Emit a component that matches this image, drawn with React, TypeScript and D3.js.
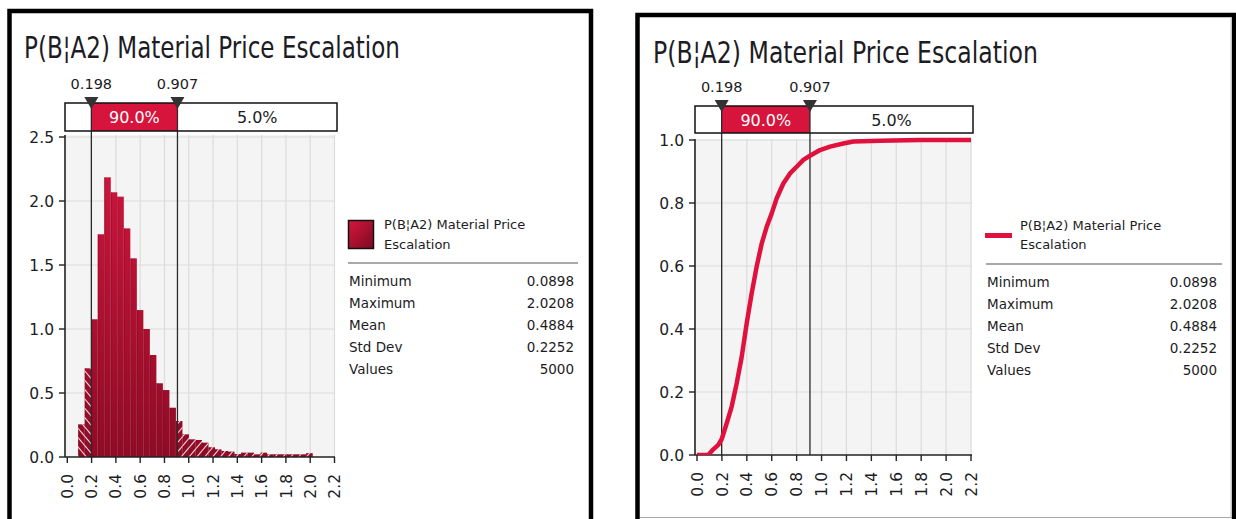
import React from 'react';
import * as d3 from 'd3';

// ---- values ----
const TITLE = 'P(B¦A2) Material Price Escalation';
const LEGEND_LINES = ['P(B¦A2) Material Price', 'Escalation'];
const STAT_LABELS = ['Minimum', 'Maximum', 'Mean', 'Std Dev', 'Values'];
const STAT_VALUES = ['0.0898', '2.0208', '0.4884', '0.2252', '5000'];
const DATA_MIN = 0.0898;
const DATA_MAX = 2.0208;
const LOWER_PCT = 0.198;
const UPPER_PCT = 0.907;
const BAND_LABELS = ['5.0%', '90.0%', '5.0%'];

// histogram densities, 36 equal bins from DATA_MIN to DATA_MAX
const DENSITY = [
  0.255, 0.693, 1.076, 1.74, 2.185, 2.068, 2.034, 1.786, 1.552, 1.148, 1.0, 0.797,
  0.576, 0.523, 0.385, 0.281, 0.177, 0.138, 0.133, 0.112, 0.076, 0.06, 0.047, 0.042,
  0.023, 0.034, 0.034, 0.021, 0.034, 0.021, 0.021, 0.021, 0.021, 0.021, 0.021, 0.03,
];

// cumulative probability curve
const CDF_X = [
  0, 0.09, 0.131, 0.171, 0.198, 0.238, 0.278, 0.319, 0.359, 0.399, 0.439, 0.479, 0.52,
  0.56, 0.6, 0.64, 0.693, 0.747, 0.8, 0.854, 0.907, 0.988, 1.068, 1.175, 1.256, 1.47,
  1.79, 2.2,
];
const CDF_P = [
  0, 0, 0.018, 0.032, 0.05, 0.1, 0.153, 0.228, 0.312, 0.418, 0.513, 0.598, 0.672,
  0.725, 0.767, 0.815, 0.862, 0.894, 0.915, 0.937, 0.95, 0.968, 0.979, 0.989, 0.995,
  0.998, 1.0, 1.0,
];

const X_TICKS = [0, 0.2, 0.4, 0.6, 0.8, 1.0, 1.2, 1.4, 1.6, 1.8, 2.0, 2.2];
const DENSITY_TICKS = [0, 0.5, 1.0, 1.5, 2.0, 2.5];
const CDF_TICKS = [0, 0.2, 0.4, 0.6, 0.8, 1.0];

// ---- styling ----
const FONT = "'DejaVu Sans', Verdana, sans-serif";
const INK = '#1c1c24';
const RED = '#d6143c';
const LINE_RED = '#e0123d';

type Layout = {
  id: string;
  kind: 'density' | 'cdf';
  frame: { left: number; top: number; right: number };
  title: { x: number; y: number; len: number };
  plot: { left: number; right: number; top: number; bottom: number };
  xRange: [number, number];
  yRange: [number, number];
  band: { top: number; bottom: number; right: number };
  pctLabelY: number;
  xLabelTop: number;
  legend: {
    swatchX: number; swatchY: number; textX: number; text1Y: number; text2Y: number;
    sepLeft: number; sepRight: number; sepY: number; labelX: number; valueX: number;
    rowY0: number; rowStep: number;
  };
};

const LAYOUTS: Layout[] = [
  {
    id: 'pdf',
    kind: 'density',
    frame: { left: 9.5, top: 11, right: 591 },
    title: { x: 24, y: 58, len: 376 },
    plot: { left: 65, right: 335, top: 135, bottom: 457 },
    xRange: [67.3, 334.5],
    yRange: [457, 137],
    band: { top: 103, bottom: 131, right: 337 },
    pctLabelY: 89,
    xLabelTop: 474,
    legend: {
      swatchX: 348.5, swatchY: 220.5, textX: 384, text1Y: 229, text2Y: 249,
      sepLeft: 348, sepRight: 578, sepY: 263, labelX: 349, valueX: 574,
      rowY0: 286, rowStep: 22,
    },
  },
  {
    id: 'cdf',
    kind: 'cdf',
    frame: { left: 637.5, top: 15, right: 1234 },
    title: { x: 653, y: 63, len: 385 },
    plot: { left: 695, right: 972, top: 139, bottom: 455 },
    xRange: [697, 971],
    yRange: [455, 140],
    band: { top: 106, bottom: 133, right: 973 },
    pctLabelY: 92,
    xLabelTop: 472,
    legend: {
      swatchX: 985, swatchY: 233, textX: 1020, text1Y: 230, text2Y: 249,
      sepLeft: 986, sepRight: 1222, sepY: 264, labelX: 987, valueX: 1217,
      rowY0: 287, rowStep: 22,
    },
  },
];

function Panel({ L }: { L: Layout }) {
  const isDensity = L.kind === 'density';
  const x = d3.scaleLinear().domain([0, 2.2]).range(L.xRange);
  const y = d3.scaleLinear().domain(isDensity ? [0, 2.5] : [0, 1]).range(L.yRange);
  const yTicks = isDensity ? DENSITY_TICKS : CDF_TICKS;
  const fmt = d3.format('.1f');
  const xl = x(LOWER_PCT);
  const xu = x(UPPER_PCT);
  const { plot, band } = L;
  const bin = d3.scaleLinear().domain([0, DENSITY.length]).range([DATA_MIN, DATA_MAX]);
  const bars = DENSITY.map((d, i) => ({ x0: bin(i), x1: bin(i + 1), d }));
  const cdfLine = d3
    .line<number>()
    .x((_, i) => x(CDF_X[i]))
    .y((p) => y(p))(CDF_P) as string;

  const regions = [
    { x0: plot.left, x1: xl, fill: 'white', color: INK, label: BAND_LABELS[0] },
    { x0: xl, x1: xu, fill: RED, color: 'white', label: BAND_LABELS[1] },
    { x0: xu, x1: band.right, fill: 'white', color: INK, label: BAND_LABELS[2] },
  ];
  const bandTextY = band.top + (band.bottom - band.top) / 2;

  return (
    <g>
      <defs>
        <linearGradient id={`${L.id}-bar`} gradientUnits="userSpaceOnUse" x1="0" y1={plot.top} x2="0" y2={plot.bottom}>
          <stop offset="0" stopColor="#d4163e" />
          <stop offset="1" stopColor="#8f0b26" />
        </linearGradient>
        <linearGradient id={`${L.id}-swatch`} x1="0" y1="0" x2="1" y2="1">
          <stop offset="0" stopColor="#d5173e" />
          <stop offset="1" stopColor="#7c0a21" />
        </linearGradient>
        <pattern id={`${L.id}-hatchL`} width="6" height="6" patternUnits="userSpaceOnUse" patternTransform="rotate(-40)">
          <line x1="0" y1="0" x2="0" y2="6" stroke="white" strokeWidth="1.8" />
        </pattern>
        <pattern id={`${L.id}-hatchR`} width="6" height="6" patternUnits="userSpaceOnUse" patternTransform="rotate(40)">
          <line x1="0" y1="0" x2="0" y2="6" stroke="white" strokeWidth="1.8" />
        </pattern>
        <clipPath id={`${L.id}-plot`}>
          <rect x={plot.left} y={plot.top - 3} width={plot.right - plot.left} height={plot.bottom - plot.top + 3} />
        </clipPath>
        <clipPath id={`${L.id}-low`}>
          <rect x={plot.left} y={plot.top} width={xl - plot.left} height={plot.bottom - plot.top} />
        </clipPath>
        <clipPath id={`${L.id}-high`}>
          <rect x={xu} y={plot.top} width={plot.right - xu} height={plot.bottom - plot.top} />
        </clipPath>
      </defs>

      {/* frame */}
      <path
        d={`M${L.frame.left},530 V${L.frame.top} H${L.frame.right} V530`}
        fill="none"
        stroke="#000"
        strokeWidth={4.5}
      />

      {/* title */}
      <text
        x={L.title.x}
        y={L.title.y}
        fontFamily={FONT}
        fontSize={30}
        fill={INK}
        textLength={L.title.len}
        lengthAdjust="spacingAndGlyphs"
      >
        {TITLE}
      </text>

      {/* plot background and grid */}
      <rect x={plot.left} y={plot.top} width={plot.right - plot.left} height={plot.bottom - plot.top} fill="#f4f4f4" />
      {X_TICKS.filter((t) => t > 0).map((t) => (
        <line key={`gx${t}`} x1={x(t)} x2={x(t)} y1={plot.top} y2={plot.bottom} stroke="#dcdcdc" strokeWidth={1.2} />
      ))}
      {yTicks.filter((t) => t > 0).map((t) => (
        <line key={`gy${t}`} x1={plot.left} x2={plot.right} y1={y(t)} y2={y(t)} stroke="#dcdcdc" strokeWidth={1.2} />
      ))}

      {/* data */}
      {isDensity ? (
        <g>
          {bars.map((b, i) => (
            <rect
              key={`b${i}`}
              x={x(b.x0)}
              y={y(b.d)}
              width={x(b.x1) - x(b.x0)}
              height={y(0) - y(b.d)}
              fill={`url(#${L.id}-bar)`}
            />
          ))}
          {bars.map((b, i) => (
            <line
              key={`e${i}`}
              x1={x(b.x0) + 0.5}
              x2={x(b.x0) + 0.5}
              y1={y(b.d)}
              y2={y(0)}
              stroke="#7a0920"
              strokeOpacity={0.45}
              strokeWidth={1}
            />
          ))}
          <g clipPath={`url(#${L.id}-low)`}>
            {bars.map((b, i) => (
              <rect
                key={`hl${i}`}
                x={x(b.x0)}
                y={y(b.d)}
                width={x(b.x1) - x(b.x0)}
                height={y(0) - y(b.d)}
                fill={`url(#${L.id}-hatchL)`}
              />
            ))}
          </g>
          <g clipPath={`url(#${L.id}-high)`}>
            {bars.map((b, i) => (
              <rect
                key={`hh${i}`}
                x={x(b.x0)}
                y={y(b.d)}
                width={x(b.x1) - x(b.x0)}
                height={y(0) - y(b.d)}
                fill={`url(#${L.id}-hatchR)`}
              />
            ))}
          </g>
        </g>
      ) : null}

      {/* percentile delimiters */}
      {[xl, xu].map((cx, i) => (
        <line key={`pl${i}`} x1={cx} x2={cx} y1={band.top} y2={plot.bottom} stroke="#2b2b2b" strokeWidth={1.3} />
      ))}

      {/* axes */}
      <line x1={plot.left} x2={plot.left} y1={plot.top} y2={plot.bottom} stroke="#222" strokeWidth={1.6} />
      <line x1={plot.left} x2={plot.right} y1={plot.bottom} y2={plot.bottom} stroke="#222" strokeWidth={1.6} />
      {yTicks.map((t) => (
        <g key={`yt${t}`}>
          <line x1={plot.left - 6} x2={plot.left} y1={y(t)} y2={y(t)} stroke="#222" strokeWidth={1.4} />
          <text
            x={plot.left - 11}
            y={y(t)}
            dy="0.36em"
            textAnchor="end"
            fontFamily={FONT}
            fontSize={15.5}
            fill={INK}
          >
            {fmt(t)}
          </text>
        </g>
      ))}
      {X_TICKS.map((t) => (
        <g key={`xt${t}`}>
          <line x1={x(t)} x2={x(t)} y1={plot.bottom} y2={plot.bottom + 6} stroke="#222" strokeWidth={1.4} />
          <text
            transform={`translate(${x(t)},${L.xLabelTop}) rotate(-90)`}
            dy="0.36em"
            textAnchor="end"
            fontFamily={FONT}
            fontSize={15.5}
            fill={INK}
          >
            {fmt(t)}
          </text>
        </g>
      ))}

      {!isDensity ? (
        <path
          d={cdfLine}
          fill="none"
          stroke={LINE_RED}
          strokeWidth={4.5}
          strokeLinejoin="round"
          clipPath={`url(#${L.id}-plot)`}
        />
      ) : null}

      {/* percentile band */}
      {regions.map((r, i) => (
        <g key={`r${i}`}>
          <rect x={r.x0} y={band.top} width={r.x1 - r.x0} height={band.bottom - band.top} fill={r.fill} />
          {r.x1 - r.x0 > 40 ? (
            <text
              x={(r.x0 + r.x1) / 2}
              y={bandTextY}
              dy="0.38em"
              textAnchor="middle"
              fontFamily={FONT}
              fontSize={16}
              fill={r.color}
            >
              {r.label}
            </text>
          ) : null}
        </g>
      ))}
      <rect
        x={plot.left}
        y={band.top}
        width={band.right - plot.left}
        height={band.bottom - band.top}
        fill="none"
        stroke="#111"
        strokeWidth={1.5}
      />
      {[
        { cx: xl, v: LOWER_PCT },
        { cx: xu, v: UPPER_PCT },
      ].map((m, i) => (
        <g key={`m${i}`}>
          <line x1={m.cx} x2={m.cx} y1={band.top} y2={band.bottom} stroke="#2b2b2b" strokeWidth={1.3} />
          <path
            d={`M${m.cx - 7},${band.top - 6} L${m.cx + 7},${band.top - 6} L${m.cx},${band.top + 6} Z`}
            fill="#333"
          />
          <text
            x={m.cx}
            y={L.pctLabelY}
            textAnchor="middle"
            fontFamily={FONT}
            fontSize={14.5}
            fill={INK}
          >
            {d3.format('.3f')(m.v)}
          </text>
        </g>
      ))}

      {/* legend */}
      {isDensity ? (
        <rect
          x={L.legend.swatchX}
          y={L.legend.swatchY}
          width={25}
          height={28}
          fill={`url(#${L.id}-swatch)`}
          stroke="#111"
          strokeWidth={1.5}
        />
      ) : (
        <rect x={L.legend.swatchX} y={L.legend.swatchY} width={27} height={5} fill={LINE_RED} />
      )}
      {LEGEND_LINES.map((s, i) => (
        <text
          key={`lg${i}`}
          x={L.legend.textX}
          y={i === 0 ? L.legend.text1Y : L.legend.text2Y}
          fontFamily={FONT}
          fontSize={13}
          fill={INK}
        >
          {s}
        </text>
      ))}
      <line
        x1={L.legend.sepLeft}
        x2={L.legend.sepRight}
        y1={L.legend.sepY}
        y2={L.legend.sepY}
        stroke="#8c8c8c"
        strokeWidth={1.5}
      />
      {STAT_LABELS.map((s, i) => (
        <g key={`st${i}`}>
          <text
            x={L.legend.labelX}
            y={L.legend.rowY0 + i * L.legend.rowStep}
            fontFamily={FONT}
            fontSize={13.5}
            fill={INK}
          >
            {s}
          </text>
          <text
            x={L.legend.valueX}
            y={L.legend.rowY0 + i * L.legend.rowStep}
            textAnchor="end"
            fontFamily={FONT}
            fontSize={13.5}
            fill={INK}
          >
            {STAT_VALUES[i]}
          </text>
        </g>
      ))}
    </g>
  );
}

export default function App() {
  return (
    <svg
      width={1236}
      height={519}
      viewBox="0 0 1236 519"
      style={{ position: 'absolute', left: 0, top: 0, background: 'white' }}
    >
      <rect x={0} y={0} width={1236} height={519} fill="white" />
      {LAYOUTS.map((L) => (
        <Panel key={L.id} L={L} />
      ))}
      <line x1={640} x2={1232} y1={517.5} y2={517.5} stroke="#a8a8a8" strokeWidth={1.2} />
      <line x1={1231} x2={1231} y1={17} y2={517} stroke="#c8c8c8" strokeWidth={1} />
    </svg>
  );
}
